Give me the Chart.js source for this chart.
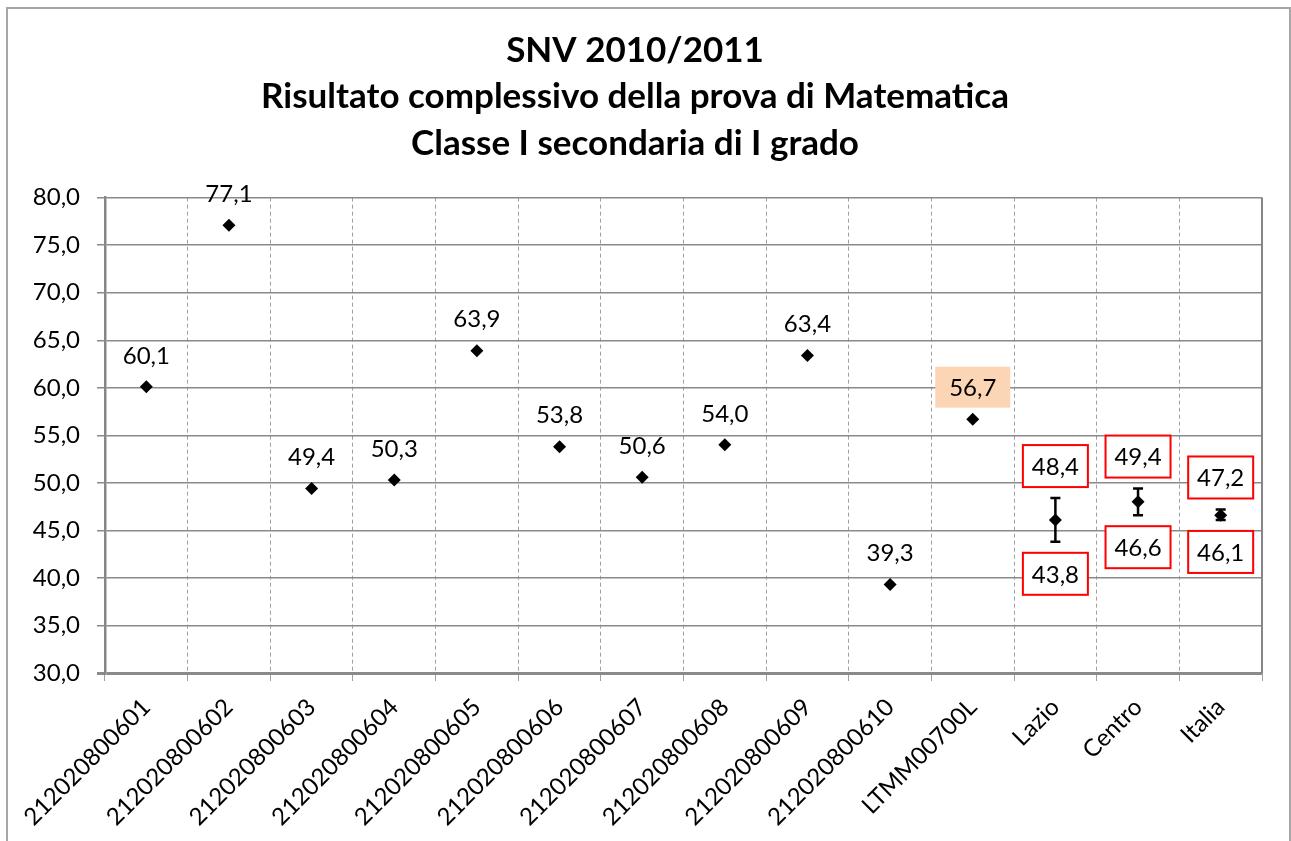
<!DOCTYPE html>
<html lang="it">
<head>
<meta charset="utf-8">
<title>SNV 2010/2011 - Matematica</title>
<script src="https://cdn.jsdelivr.net/npm/chart.js@4.4.1/dist/chart.umd.min.js"></script>
<style>
  body { margin: 0; background: #fff; }
  #cornice {
    position: absolute;
    left: 6px;
    top: 7px;
    width: 1281px;
    height: 840px;
    border: 2px solid #a6a6a6;
    border-bottom: none;
  }
  canvas { display: block; }
</style>
</head>
<body>
<div id="cornice">
  <canvas id="graficoMatematica" width="1281" height="832"></canvas>
</div>

<script>
// Dati: punteggio medio per scuola / area
const categorie = [
  "212020800601", "212020800602", "212020800603", "212020800604",
  "212020800605", "212020800606", "212020800607", "212020800608",
  "212020800609", "212020800610", "LTMM00700L", "Lazio", "Centro", "Italia",
];
const punteggi = [60.1, 77.1, 49.4, 50.3, 63.9, 53.8, 50.6, 54.0, 63.4, 39.3, 56.7, 46.1, 48.0, 46.6];

// Intervallo di confidenza (solo per Lazio, Centro, Italia)
const limiteInferiore = [null, null, null, null, null, null, null, null, null, null, null, 43.8, 46.6, 46.1];
const limiteSuperiore = [null, null, null, null, null, null, null, null, null, null, null, 48.4, 49.4, 47.2];

// Scuola evidenziata
const scuolaEvidenziata = "LTMM00700L";

// Asse Y
const asseMin = 30;
const asseMax = 80;
const assePasso = 5;

const FONT = "Lato, 'Open Sans', sans-serif";

function formatta(v) {
  return v.toFixed(1).replace(".", ",");
}

// Barre di errore disegnate sotto i punti
const barreErrorePlugin = {
  id: "barreErrore",
  beforeDatasetsDraw(chart) {
    const ctx = chart.ctx;
    const x = chart.scales.x;
    const y = chart.scales.y;
    ctx.save();
    ctx.strokeStyle = "#000";
    ctx.lineWidth = 2.5;
    categorie.forEach((cat, i) => {
      if (limiteInferiore[i] === null) return;
      const px = x.getPixelForValue(i);
      const yLo = y.getPixelForValue(limiteInferiore[i]);
      const yHi = y.getPixelForValue(limiteSuperiore[i]);
      ctx.beginPath();
      ctx.moveTo(px, yLo);
      ctx.lineTo(px, yHi);
      ctx.moveTo(px - 5, yLo);
      ctx.lineTo(px + 5, yLo);
      ctx.moveTo(px - 5, yHi);
      ctx.lineTo(px + 5, yHi);
      ctx.stroke();
    });
    ctx.restore();
  },
};

// Etichette con i valori (e bordo destro dell'area del grafico)
const etichettePlugin = {
  id: "etichette",
  afterDatasetsDraw(chart) {
    const ctx = chart.ctx;
    const x = chart.scales.x;
    const y = chart.scales.y;
    const area = chart.chartArea;

    ctx.save();
    ctx.strokeStyle = "#868686";
    ctx.lineWidth = 2;
    ctx.beginPath();
    ctx.moveTo(area.right, area.top);
    ctx.lineTo(area.right, area.bottom);
    ctx.stroke();

    ctx.font = "24px " + FONT;
    ctx.textAlign = "center";
    ctx.textBaseline = "middle";

    const scatola = (testo, cx, cy, w, h, riempi, bordo) => {
      if (riempi) {
        ctx.fillStyle = riempi;
        ctx.fillRect(cx - w / 2, cy - h / 2, w, h);
      }
      if (bordo) {
        ctx.strokeStyle = bordo;
        ctx.lineWidth = 2;
        ctx.strokeRect(cx - w / 2, cy - h / 2, w, h);
      }
      ctx.fillStyle = "#000";
      ctx.fillText(testo, cx, cy + 1);
    };

    categorie.forEach((cat, i) => {
      const px = x.getPixelForValue(i);
      if (limiteInferiore[i] !== null) {
        const yHi = y.getPixelForValue(limiteSuperiore[i]);
        const yLo = y.getPixelForValue(limiteInferiore[i]);
        scatola(formatta(limiteSuperiore[i]), px, yHi - 32, 65, 42, "#fff", "#ff0000");
        scatola(formatta(limiteInferiore[i]), px, yLo + 32, 65, 42, "#fff", "#ff0000");
      } else {
        const py = y.getPixelForValue(punteggi[i]);
        if (cat === scuolaEvidenziata) {
          scatola(formatta(punteggi[i]), px, py - 32, 75, 41, "#fcd5b5", null);
        } else {
          scatola(formatta(punteggi[i]), px, py - 32, 0, 0, null, null);
        }
      }
    });
    ctx.restore();
  },
};

new Chart(document.getElementById("graficoMatematica"), {
  type: "line",
  data: {
    labels: categorie,
    datasets: [
      {
        label: "Punteggio",
        data: punteggi,
        showLine: false,
        pointStyle: "rectRot",
        pointRadius: 6.5,
        pointBackgroundColor: "#000",
        pointBorderColor: "#000",
        pointBorderWidth: 0,
      },
    ],
  },
  options: {
    responsive: false,
    animation: false,
    layout: { padding: { left: 0, right: 27, top: 0, bottom: 0 } },
    plugins: {
      legend: { display: false },
      tooltip: { enabled: false },
      title: {
        display: true,
        text: [
          "SNV 2010/2011",
          "Risultato complessivo della prova di Matematica",
          "Classe I secondaria di I grado",
        ],
        color: "#000",
        font: { family: FONT, size: 35, weight: "bold", lineHeight: 1.33 },
        padding: { top: 18, bottom: 31 },
      },
    },
    scales: {
      x: {
        offset: true,
        grid: { offset: true, color: "#a0a0a0", lineWidth: 1, tickLength: 8 },
        border: { display: false, dash: [4, 3] },
        ticks: {
          autoSkip: false,
          minRotation: 45,
          maxRotation: 45,
          color: "#000",
          padding: 12,
          font: { family: FONT, size: 24 },
        },
        afterFit(scale) {
          scale.height = 168;
        },
      },
      y: {
        min: asseMin,
        max: asseMax,
        grid: {
          color: "#8a8a8a",
          lineWidth: (c) => (c.tick && c.tick.value === asseMin ? 3 : 1.5),
          tickLength: 8,
        },
        border: { display: true, color: "#868686", width: 2.5 },
        ticks: {
          stepSize: assePasso,
          color: "#000",
          padding: 17,
          font: { family: FONT, size: 24 },
          callback: (v) => formatta(v),
        },
        afterFit(scale) {
          scale.width = 97;
        },
      },
    },
  },
  plugins: [barreErrorePlugin, etichettePlugin],
});
</script>
</body>
</html>
